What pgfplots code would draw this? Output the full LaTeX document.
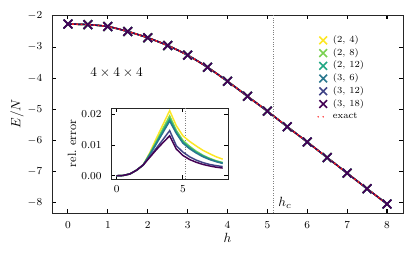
\documentclass[border=0pt]{standalone}
\usepackage{pgfplots}
\pgfplotsset{compat=1.18}
\usepackage{pgfplotstable}

\definecolor{vA}{HTML}{FDE725}
\definecolor{vB}{HTML}{7AD151}
\definecolor{vC}{HTML}{22A884}
\definecolor{vD}{HTML}{2A788E}
\definecolor{vE}{HTML}{414487}
\definecolor{vF}{HTML}{440154}
\definecolor{exred}{HTML}{FF2020}

\pgfplotsset{
  legmark/.style={only marks, mark=x, mark size=4.1pt, mark options={line width=1.2pt},
    legend image code/.code={\draw[##1] plot coordinates {(4.25pt,0pt)}; \path (10pt,0pt);}},
  legexact/.style={line width=1.2pt, line cap=round, dash pattern=on 0pt off 3.75pt,
    legend image code/.code={\draw[##1] (0.5pt,0pt) -- (4.5pt,0pt); \path (10pt,0pt);}},
}

\pgfplotstableread{
h E
0 -2.26
0.5 -2.28
1 -2.34
1.5 -2.50
2 -2.70
2.5 -2.95
3 -3.26
3.5 -3.65
4 -4.10
4.5 -4.58
5 -5.06
5.5 -5.56
6 -6.05
6.5 -6.55
7 -7.05
7.5 -7.55
8 -8.04
}\energy

\pgfplotstableread{
h A B C D E F
0 0 0 0 0 0 0
0.5 0.0001 0.0001 0.0001 0.0001 0.0001 0.0001
1 0.0006 0.0006 0.0006 0.0006 0.0006 0.0006
1.5 0.0018 0.0018 0.0018 0.0018 0.0018 0.0018
2 0.0035 0.0035 0.0035 0.0035 0.0035 0.0035
2.5 0.0075 0.0072 0.0070 0.0068 0.0062 0.0060
3 0.0122 0.0113 0.0108 0.0104 0.0090 0.0085
3.5 0.0167 0.0154 0.0147 0.0141 0.0118 0.0108
4 0.0212 0.0195 0.0185 0.0178 0.0147 0.0130
4.5 0.0163 0.0148 0.0142 0.0138 0.0098 0.0087
5 0.0130 0.0115 0.0110 0.0106 0.0077 0.0066
5.5 0.0112 0.0096 0.0092 0.0088 0.0062 0.0053
6 0.0097 0.0080 0.0077 0.0074 0.0051 0.0044
6.5 0.0083 0.0067 0.0065 0.0062 0.0043 0.0037
7 0.0072 0.0057 0.0055 0.0053 0.0037 0.0032
7.5 0.0062 0.0049 0.0047 0.0046 0.0033 0.0028
8 0.0054 0.0043 0.0042 0.0040 0.0030 0.0025
}\relerr

\begin{document}
\begin{tikzpicture}
\useasboundingbox (-39pt,-33.75pt) rectangle (272.25pt,159.75pt);
\begin{axis}[
  scale only axis,
  width=263.25pt, height=148.5pt,
  xmin=-0.4, xmax=8.4, ymin=-8.33, ymax=-1.97,
  xtick={0,1,...,8}, ytick={-8,-7,...,-2},
  tick align=inside,
  major tick length=3pt,
  major tick style={line width=0.8pt, black},
  axis line style={line width=0.6pt, black!85},
  tick label style={font=\footnotesize},
  yticklabel style={xshift=-3.8pt},
  xticklabel style={yshift=-2.6pt},
  xlabel={$h$}, ylabel={$E/N$},
  x label style={at={(axis description cs:0.5,-0.126)}, anchor=center},
  y label style={at={(axis description cs:-0.0997,0.5)}, anchor=center, rotate=0},
  legend style={at={(0.744,0.915)}, anchor=north west, draw=none, fill=none,
    font=\fontsize{7}{8}\selectfont, row sep=1.15pt,
    nodes={inner sep=1pt, text height=4.8pt, text depth=1.6pt}},
  legend cell align=left,
  every axis plot/.append style={line width=1.1pt},
]
\addplot[vA, smooth, mark=x, mark size=4.6pt, mark options={line width=1.2pt}, forget plot] table[x=h,y=E]{\energy};
\addplot[vB, smooth, mark=x, mark size=4.6pt, mark options={line width=1.2pt}, forget plot] table[x=h,y=E]{\energy};
\addplot[vC, smooth, mark=x, mark size=4.6pt, mark options={line width=1.2pt}, forget plot] table[x=h,y=E]{\energy};
\addplot[vD, smooth, mark=x, mark size=4.6pt, mark options={line width=1.2pt}, forget plot] table[x=h,y=E]{\energy};
\addplot[vE, smooth, mark=x, mark size=4.6pt, mark options={line width=1.2pt}, forget plot] table[x=h,y=E]{\energy};
\addplot[vF, smooth, mark=x, mark size=4.6pt, mark options={line width=1.2pt}, forget plot] table[x=h,y=E]{\energy};
\addplot[exred, smooth, line width=1.2pt, dash pattern=on 1.2pt off 2pt, forget plot] table[x=h,y=E]{\energy};
\draw[gray, line width=0.8pt, densely dotted] (axis cs:5.16,-8.33) -- (axis cs:5.16,-1.97);
\node[anchor=west, font=\normalsize] at (axis cs:5.16,-8.0) {$h_c$};
\node[font=\normalsize] at (axis cs:1.22,-3.81) {$4\times4\times4$};

\addlegendimage{vA, legmark}
\addlegendentry{$(2,\,4)$}
\addlegendimage{vB, legmark}
\addlegendentry{$(2,\,8)$}
\addlegendimage{vC, legmark}
\addlegendentry{$(2,\,12)$}
\addlegendimage{vD, legmark}
\addlegendentry{$(3,\,6)$}
\addlegendimage{vE, legmark}
\addlegendentry{$(3,\,12)$}
\addlegendimage{vF, legmark}
\addlegendentry{$(3,\,18)$}
\addlegendimage{exred, legexact}
\addlegendentry{exact}
\end{axis}

\begin{axis}[
  at={(44.5pt,25.5pt)}, anchor=south west,
  scale only axis,
  width=87.5pt, height=53.25pt,
  axis background/.style={fill=white},
  xmin=-0.4, xmax=8.4, ymin=-0.00105, ymax=0.02205,
  xtick={0,5}, ytick={0,0.01,0.02},
  scaled y ticks=false,
  tick align=inside,
  major tick length=3pt,
  major tick style={line width=0.8pt, black},
  axis line style={line width=0.6pt, black!85},
  tick label style={font=\footnotesize},
  yticklabel style={/pgf/number format/fixed, /pgf/number format/fixed zerofill, /pgf/number format/precision=2, xshift=-3.8pt},
  xticklabel style={yshift=-1.5pt},
  ylabel={rel.\ error},
  y label style={at={(axis description cs:-0.337,0.5)}, anchor=center, font=\fontsize{9}{10}\selectfont},
  every axis plot/.append style={line width=1.1pt},
]
\draw[gray, line width=0.8pt, densely dotted] (axis cs:5.16,-0.00105) -- (axis cs:5.16,0.02205);
\addplot[vA, no markers] table[x=h,y=A]{\relerr};
\addplot[vB, no markers] table[x=h,y=B]{\relerr};
\addplot[vC, no markers] table[x=h,y=C]{\relerr};
\addplot[vD, no markers] table[x=h,y=D]{\relerr};
\addplot[vE, no markers] table[x=h,y=E]{\relerr};
\addplot[vF, no markers] table[x=h,y=F]{\relerr};
\end{axis}
\end{tikzpicture}
\end{document}
